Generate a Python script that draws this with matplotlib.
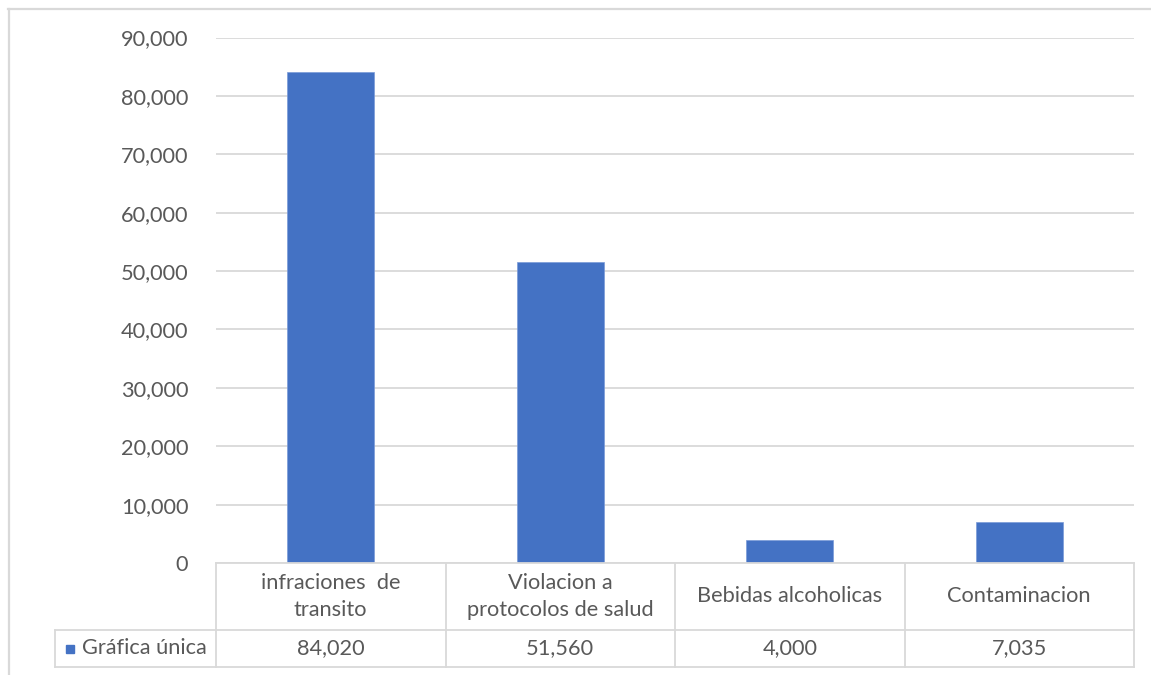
import matplotlib.pyplot as plt
from matplotlib.transforms import blended_transform_factory
from matplotlib.ticker import FuncFormatter

# datos
categorias = ['infraciones  de\ntransito', 'Violacion a\nprotocolos de salud',
              'Bebidas alcoholicas', 'Contaminacion']
valores = [84020, 51560, 4000, 7035]
serie = 'Gráfica única'
yticks = [0, 10000, 20000, 30000, 40000, 50000, 60000, 70000, 80000, 90000]

plt.rcParams['font.family'] = ['Lato', 'DejaVu Sans']
gris_txt = '#595959'
gris_lin = '#d9d9d9'
azul = '#4472C4'
fs = 15.7

W, H = 1151, 675
fig = plt.figure(figsize=(W / 100, H / 100), dpi=100)

def fy(py):
    return 1 - py / H

def fx(px):
    return px / W

ax = fig.add_axes([fx(216), fy(563), fx(1134) - fx(216), fy(37.5) - fy(563)])
x = list(range(len(categorias)))
ax.bar(x, valores, width=0.38, color=azul, edgecolor='#7a9ad8', linewidth=0.5, zorder=3)
ax.set_xlim(-0.5, len(categorias) - 0.5)
ax.set_ylim(0, 90000)
ax.set_yticks(yticks)
ax.yaxis.set_major_formatter(FuncFormatter(lambda v, p: f'{int(v):,}'))
ax.tick_params(axis='y', length=0, pad=20, labelsize=fs, labelcolor=gris_txt)
ax.set_xticks([])
ax.grid(axis='y', color=gris_lin, linewidth=1.3, zorder=0)
for s in ax.spines.values():
    s.set_visible(False)

# tabla de datos
tr = blended_transform_factory(ax.transData, fig.transFigure)
bordes = [-0.5 + i for i in range(len(categorias) + 1)]
y_top, y_mid, y_bot = fy(563), fy(630), fy(667)
lkw = dict(color=gris_lin, linewidth=1.3, clip_on=False)
fig.add_artist(plt.Line2D([bordes[0], bordes[-1]], [y_top, y_top], transform=tr, **lkw))
for yy in (y_mid, y_bot):
    fig.add_artist(plt.Line2D([fx(55), fx(216)], [yy, yy], transform=fig.transFigure, **lkw))
    fig.add_artist(plt.Line2D([bordes[0], bordes[-1]], [yy, yy], transform=tr, **lkw))
fig.add_artist(plt.Line2D([fx(55), fx(55)], [y_mid, y_bot], transform=fig.transFigure, **lkw))
for b in bordes:
    fig.add_artist(plt.Line2D([b, b], [y_top, y_bot], transform=tr, **lkw))

for i, (c, v) in enumerate(zip(categorias, valores)):
    fig.text(i, fy(596.5), c, transform=tr, ha='center', va='center',
             fontsize=fs, color=gris_txt, linespacing=1.45)
    fig.text(i, fy(648.5), f'{v:,}', transform=tr, ha='center', va='center',
             fontsize=fs, color=gris_txt)

fig.add_artist(plt.Rectangle((fx(66), fy(653)), fx(8), fy(645) - fy(653),
                             transform=fig.transFigure, color=azul))
fig.text(fx(82), fy(648.5), serie, ha='left', va='center', fontsize=fs, color=gris_txt)

# borde exterior
fig.add_artist(plt.Line2D([fx(8.5), fx(8.5)], [fy(9), 0], transform=fig.transFigure,
                          color=gris_lin, linewidth=1.6))
fig.add_artist(plt.Line2D([fx(8), 1], [fy(9), fy(9)], transform=fig.transFigure,
                          color=gris_lin, linewidth=1.6))

fig.savefig('out.png', dpi=100, facecolor='white')
